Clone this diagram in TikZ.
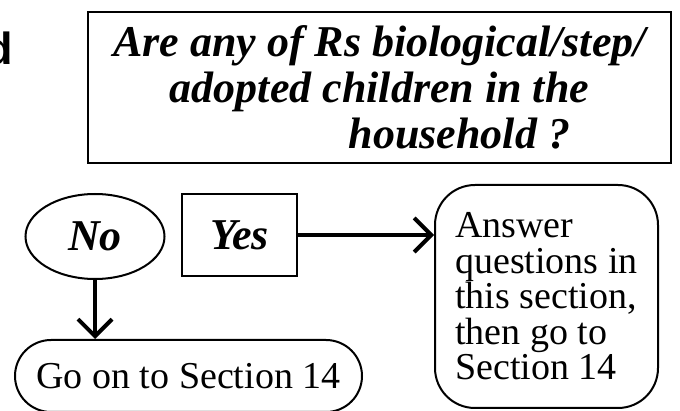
\documentclass[tikz,border=0pt]{standalone}
\usepackage{fontspec}
\setmainfont{Liberation Serif}
\newfontfamily\cutfont{Liberation Sans}
\usetikzlibrary{positioning, shapes.geometric, arrows.meta}
\tikzset{
    Arrow/.style = {
        line width=4pt,
        -{Straight Barb[length=17pt, width=34pt]}
    },
    askBox/.style = {
        draw, line width=2.5pt, inner sep=0pt, align=center,
        font=\fontsize{44}{46}\selectfont\bfseries\itshape
    },
    noBox/.style = {
        draw, ellipse, line width=2pt, inner sep=0pt,
        font=\fontsize{44}{46}\selectfont\bfseries\itshape
    },
    goBox/.style = {
        draw, line width=2pt, inner sep=0pt, align=left,
        font=\fontsize{38}{35.5}\selectfont
    }
}

\begin{document}
\begin{tikzpicture}[x=1pt, y=-1pt]
    \useasboundingbox (0,0) rectangle (680,411);
    \node[anchor=base east, inner sep=0pt, font=\fontsize{45}{45}\cutfont\bfseries] (cut) at (13,65) {d};
    \node[askBox, minimum width=583pt, minimum height=151pt] (Q) at (379.5,87.5)
        {Are any of Rs biological/step/\\adopted children in the\\\hspace*{160pt}household ?};
    \node[noBox, minimum width=139pt, minimum height=85pt] (No) at (95,236.5) {No};
    \node[askBox, minimum width=115pt, minimum height=82pt] (Yes) at (239.5,235) {Yes};
    \node[goBox, rounded corners=40pt, minimum width=223pt, minimum height=223pt] (Ans) at (546.5,296.5)
        {Answer\\questions in\\this section,\\then go to\\Section 14};
    \node[goBox, rounded corners=36pt, minimum width=347pt, minimum height=72pt] (Go) at (188.5,376)
        {Go on to Section 14};
    \draw [Arrow] (Yes) -- (Yes.east -| Ans.west);
    \draw [Arrow] (No) -- (No |- Go.north);
\end{tikzpicture}
\end{document}
